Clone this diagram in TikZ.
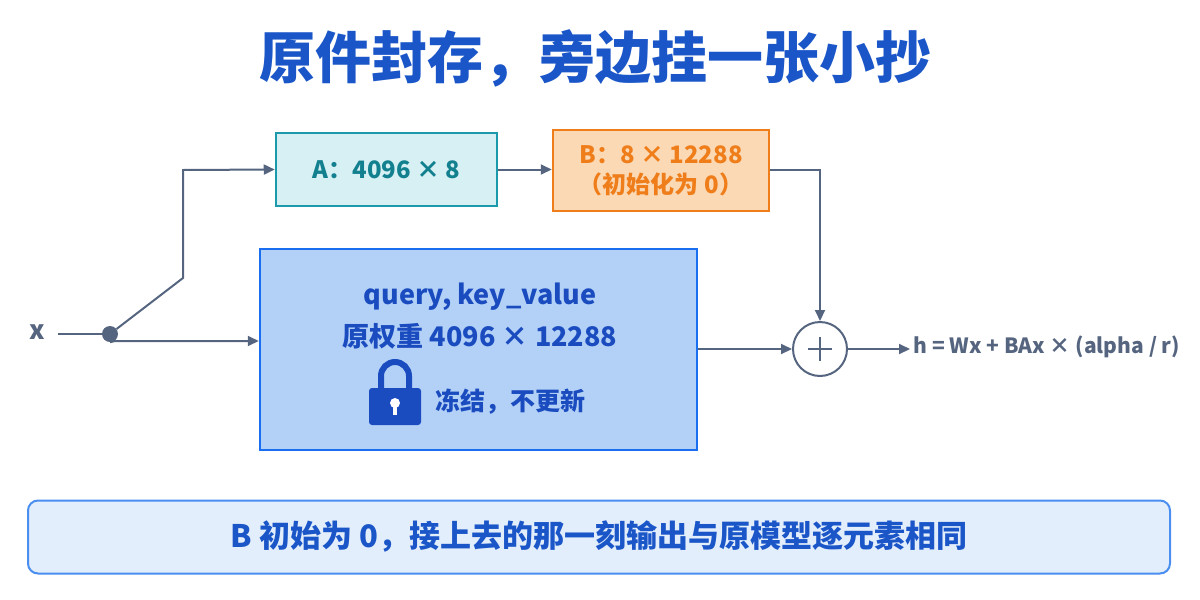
\documentclass[tikz,border=0pt]{standalone}
\usepackage{fontspec}
\setmainfont{Noto Sans CJK SC}
\usetikzlibrary{arrows.meta}
\definecolor{ln}{HTML}{56657F}
\definecolor{ttl}{HTML}{1A56C8}
\definecolor{dblue}{HTML}{1A4CC0}
\definecolor{aF}{HTML}{D6F0F3}\definecolor{aD}{HTML}{1A9AAA}\definecolor{aT}{HTML}{12808F}
\definecolor{bF}{HTML}{FBD9B5}\definecolor{bD}{HTML}{EE7D1A}
\definecolor{wF}{HTML}{B3D1F7}\definecolor{wD}{HTML}{1A6FF0}
\definecolor{nF}{HTML}{E3EEFC}\definecolor{nD}{HTML}{4A8EF0}
\tikzset{
 conn/.style={draw=ln,line width=2pt,-{Triangle[length=11pt,width=10pt]}},
 box/.style={draw,line width=2.5pt,inner sep=0pt,font=\fontsize{24}{30}\selectfont\bfseries,align=center},
 wt/.style={font=\fontsize{27}{32}\selectfont\bfseries,text=dblue},
}
\begin{document}
\begin{tikzpicture}[x=1pt,y=-1pt]
\useasboundingbox (0,0) rectangle (1200,600);
\node[font=\fontsize{56}{60}\selectfont\bfseries,text=ttl] (title) at (595,58) {原件封存，旁边挂一张小抄};
\node[box,draw=aD,fill=aF,text=aT,minimum width=221pt,minimum height=73pt] (A) at (386.5,169.5) {A：4096 × 8};
\node[box,draw=bD,fill=bF,text=bD,minimum width=216pt,minimum height=81pt] (B) at (661,170.5) {B：8 × 12288\\（初始化为 0）};
\node[box,draw=wD,fill=wF,minimum width=437pt,minimum height=201pt] (W) at (478.5,349.5) {};
\node[wt] (t1) at (480,297) {query, key\_value};
\node[wt] (t2) at (480,336) {原权重 4096 × 12288};
\node[wt,font=\fontsize{25}{30}\selectfont\bfseries,anchor=west] (t3) at (432,402) {冻结，不更新};
% lock
\fill[dblue,rounded corners=3pt] (369,388) rectangle (421,425);
\draw[dblue,line width=6pt] (381,390) -- (381,376) arc[start angle=180,end angle=360,radius=14] -- (409,390);
\fill[white] (395,403) circle (5);
\fill[white] (393,404) rectangle (397,415);
\node[font=\fontsize{26}{30}\selectfont\bfseries,text=ln] (x) at (37,332) {x};
\coordinate (xe) at (58,334);
\node[circle,fill=ln,inner sep=0pt,minimum size=16pt] (d) at (110,334) {};
\draw[ln,line width=2pt] (xe) -- (d);
\draw[conn] (d) -- (183,278) -- (183,170) -- (A.west);
\draw[conn] (d.south) -- (115,341) -- (W.west |- 0,341);
\draw[conn] (A.east) -- (B.west |- A.east);
\node[circle,draw=ln,line width=2pt,minimum size=54pt] (p) at (820,349) {};
\draw[ln,line width=2.2pt] (p.center) ++(-12,0) -- ++(24,0) (p.center) ++(0,-12) -- ++(0,24);
\draw[conn] (B.east |- 0,170) -- (820,170) -- (p.north);
\draw[conn] (W.east |- p.west) -- (p.west);
\node[font=\fontsize{21}{26}\selectfont\bfseries,text=ln,anchor=west] (h) at (910,347) {h = Wx + BAx × (alpha / r)};
\draw[conn] (p.east) -- (h.west |- p.east);
\node[draw=nD,line width=2pt,fill=nF,rounded corners=10pt,minimum width=1142pt,minimum height=73pt,font=\fontsize{31}{36}\selectfont\bfseries,text=ttl] (note) at (599,537) {B 初始为 0，接上去的那一刻输出与原模型逐元素相同};
\end{tikzpicture}
\end{document}
